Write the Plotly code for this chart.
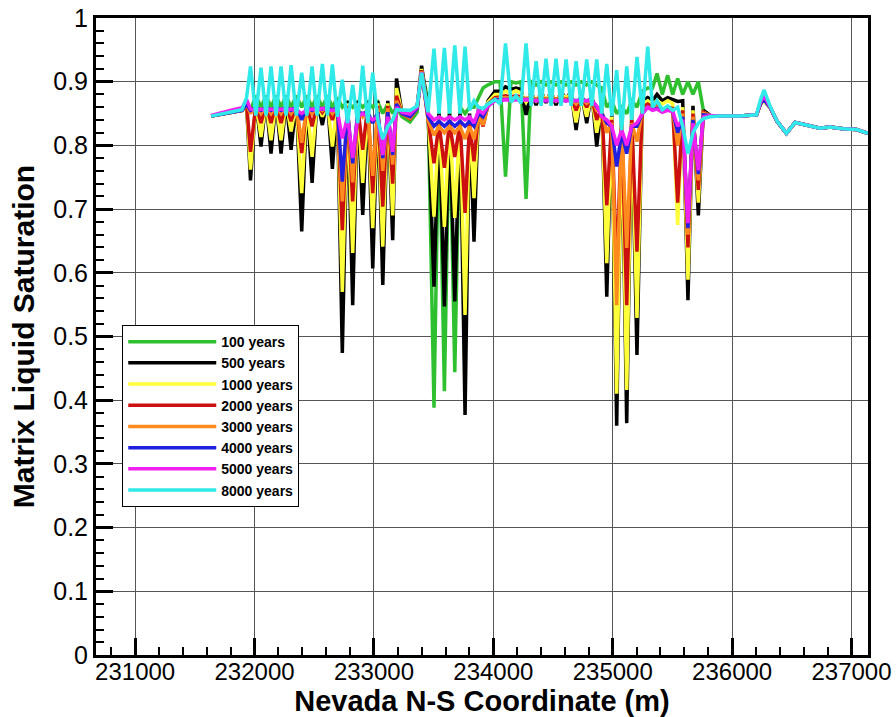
import plotly.graph_objects as go

# Nevada N-S coordinate (m) of the nodes
x_coord = [
    231636, 231728, 231820, 231895, 231933,
    231966, 232011, 232054, 232096, 232138, 232180, 232222, 232264, 232306, 232350,
    232395, 232438, 232482, 232523, 232568, 232610, 232652, 232693, 232735, 232779,
    232822, 232864, 232906, 232948, 232990, 233032, 233074, 233116, 233157,
    233189, 233235, 233302, 233361, 233399,
    233453, 233503, 233545, 233590, 233633, 233677, 233721, 233763, 233801, 233838,
    233876, 233914, 233956,
    234014, 234056, 234102, 234148, 234190, 234232, 234274, 234316, 234358, 234400,
    234441, 234483, 234525, 234567, 234609, 234651, 234693, 234737, 234782, 234824, 234866,
    234908, 234950, 234992, 235033, 235075, 235117, 235159, 235203, 235248, 235293,
    235333, 235371, 235415, 235460, 235502, 235544, 235586, 235630, 235672, 235717, 235759,
    235815, 235899, 236066, 236204, 236238, 236267, 236317, 236376, 236455, 236527,
    236623, 236736, 236820, 236929, 237042, 237138,
]

sat_100 = [
    .846, .849, .852, .855, .865,
    .855, .878, .86, .878, .86, .878, .86, .878, .86, .878, .86, .878, .86, .878, .86, .878, .86, .875,
    .86, .868, .86, .868, .86, .868, .86, .868, .85, .865, .85,
    .86, .845, .837, .852, .918,
    .87, .388, .86, .414, .86, .444, .86, .85, .86, .86, .875, .89, .895,
    .9, .9, .751, .9, .898, .9, .716, .9, .895, .9, .895, .9, .895, .9, .895, .9, .895, .9, .895, .9, .895,
    .89, .86, .87, .85, .86, .85, .87, .86, .885, .89, .89, .913, .88, .91, .88, .905, .88, .9, .88, .9, .855,
    .847, .846, .846, .848, .865, .87, .86, .838, .819, .836, .832, .827, .829, .826, .825, .819,
]
sat_500 = [
    .846, .849, .852, .855, .865,
    .745, .872, .798, .872, .787, .872, .787, .872, .793, .872, .665, .872, .741, .872, .832, .872, .763, .872,
    .474, .87, .549, .87, .691, .87, .607, .87, .581, .87, .651,
    .905, .85, .842, .858, .925,
    .855, .578, .85, .547, .85, .555, .85, .377, .85, .649, .86, .835, .87,
    .885, .885, .892, .888, .89, .888, .848, .885, .863, .885, .867, .885, .863, .885, .872, .885, .824, .885, .835, .885, .798,
    .87, .5625, .85, .36, .85, .364, .85, .471, .87, .875, .87, .88, .87, .875, .872, .869, .87, .557, .862, .69, .855,
    .847, .846, .846, .848, .865, .87, .86, .838, .819, .836, .832, .827, .829, .826, .825, .819,
]
sat_1000 = [
    .846, .849, .852, .855, .865,
    .762, .868, .813, .868, .808, .868, .808, .868, .822, .868, .725, .868, .782, .868, .845, .868, .798, .868,
    .570, .866, .631, .866, .741, .866, .670, .866, .641, .866, .690,
    .89, .85, .842, .858, .92,
    .85, .688, .845, .672, .845, .686, .845, .534, .845, .717, .855, .832, .868,
    .88, .88, .885, .882, .886, .882, .868, .88, .87, .88, .872, .88, .87, .88, .875, .88, .836, .88, .845, .88, .82,
    .865, .615, .845, .41, .845, .416, .845, .529, .865, .87, .865, .87, .865, .87, .866, .675, .86, .589, .855, .71, .852,
    .847, .846, .846, .848, .865, .87, .86, .838, .819, .836, .832, .827, .829, .826, .825, .819,
]
sat_2000 = [
    .846, .849, .852, .855, .865,
    .790, .864, .835, .864, .835, .864, .835, .864, .838, .864, .788, .864, .830, .864, .852, .864, .840, .864,
    .667, .862, .712, .862, .793, .862, .725, .862, .704, .862, .740,
    .878, .85, .842, .858, .918,
    .845, .772, .835, .765, .835, .782, .835, .694, .835, .775, .85, .83, .865,
    .875, .876, .878, .876, .878, .876, .872, .876, .872, .876, .872, .876, .872, .876, .872, .876, .855, .876, .86, .876, .84,
    .86, .706, .84, .60, .84, .549, .84, .633, .86, .865, .86, .862, .855, .86, .858, .71, .855, .64, .85, .73, .852,
    .847, .846, .846, .848, .866, .872, .86, .838, .819, .836, .832, .827, .829, .826, .825, .819,
]
sat_3000 = [
    .846, .849, .852, .855, .865,
    .850, .862, .850, .862, .850, .862, .850, .862, .850, .862, .804, .862, .850, .862, .855, .862, .850, .862,
    .712, .858, .742, .858, .845, .858, .752, .858, .760, .858, .770,
    .87, .85, .843, .858, .916,
    .84, .816, .83, .82, .83, .82, .83, .81, .83, .81, .845, .832, .862,
    .873, .874, .875, .874, .875, .874, .874, .874, .872, .874, .872, .874, .872, .874, .872, .874, .865, .874, .866, .874, .855,
    .855, .82, .835, .549, .835, .639, .835, .806, .855, .86, .858, .86, .855, .858, .856, .80, .85, .66, .845, .745, .85,
    .847, .846, .846, .848, .866, .872, .86, .838, .819, .836, .832, .827, .829, .826, .825, .819,
]
sat_4000 = [
    .846, .849, .852, .855, .865,
    .855, .860, .855, .860, .855, .860, .855, .860, .855, .860, .840, .860, .855, .860, .857, .860, .855, .860,
    .743, .852, .772, .852, .850, .852, .835, .852, .780, .852, .785,
    .865, .85, .845, .858, .915,
    .845, .83, .838, .83, .838, .83, .838, .83, .838, .83, .85, .845, .862,
    .872, .872, .872, .872, .873, .872, .872, .872, .87, .872, .87, .872, .87, .872, .87, .872, .87, .872, .87, .872, .86,
    .85, .835, .83, .767, .82, .787, .83, .83, .85, .86, .856, .858, .853, .856, .854, .82, .845, .67, .84, .755, .848,
    .847, .846, .846, .848, .866, .872, .86, .838, .819, .836, .832, .827, .829, .826, .825, .819,
]
sat_5000 = [
    .847, .852, .856, .859, .872,
    .857, .855, .857, .855, .857, .855, .857, .855, .857, .855, .850, .855, .857, .855, .858, .855, .855, .855,
    .811, .845, .780, .845, .850, .845, .840, .845, .785, .845, .790,
    .86, .852, .849, .86, .915,
    .85, .84, .845, .84, .845, .84, .845, .84, .845, .835, .855, .85, .862,
    .87, .87, .872, .87, .872, .87, .872, .87, .87, .87, .87, .87, .87, .87, .87, .87, .87, .87, .87, .87, .862,
    .845, .84, .83, .80, .825, .80, .83, .835, .85, .86, .855, .857, .852, .855, .853, .83, .84, .678, .835, .761, .845,
    .847, .846, .846, .848, .868, .878, .861, .838, .819, .836, .832, .827, .829, .826, .825, .819,
]
sat_8000 = [
    .846, .850, .853, .856, .875,
    .924, .847, .922, .847, .924, .847, .924, .847, .926, .847, .914, .847, .924, .847, .928, .847, .927, .845,
    .903, .835, .895, .835, .925, .835, .914, .84, .81, .83, .84,
    .856, .856, .855, .862, .914,
    .852, .952, .85, .953, .85, .957, .85, .955, .855, .87, .86, .858, .865,
    .872, .865, .96, .868, .878, .866, .96, .862, .932, .862, .936, .862, .936, .862, .935, .862, .932, .862, .935, .862, .935,
    .85, .928, .846, .918, .824, .924, .84, .939, .85, .955, .86, .87, .856, .862, .855, .86, .83, .787, .82, .835, .842,
    .845, .846, .846, .848, .872, .887, .862, .838, .819, .836, .832, .827, .829, .826, .825, .819,
]

series_labels = ["100 years", "500 years", "1000 years", "2000 years",
                 "3000 years", "4000 years", "5000 years", "8000 years"]
series_values = [sat_100, sat_500, sat_1000, sat_2000, sat_3000, sat_4000, sat_5000, sat_8000]
series_colors = ["#2ec02e", "#000000", "#ffff3a", "#cc1010",
                 "#ff8a1e", "#2020e0", "#f020f0", "#30eaea"]

x_tick_vals = [231000, 232000, 233000, 234000, 235000, 236000, 237000]
y_tick_vals = [0, 0.1, 0.2, 0.3, 0.4, 0.5, 0.6, 0.7, 0.8, 0.9, 1]

fig = go.Figure()
for name, vals, col in zip(series_labels, series_values, series_colors):
    fig.add_trace(go.Scatter(x=x_coord, y=vals, mode="lines", name=name,
                             line=dict(color=col, width=3.5)))

font_fam = "Liberation Sans, Arial, sans-serif"
fig.update_layout(
    width=896, height=717,
    margin=dict(l=96, r=28, t=18, b=62),
    paper_bgcolor="white", plot_bgcolor="white",
    font=dict(family=font_fam, color="black"),
    legend=dict(x=0.034, y=0.518, xanchor="left", yanchor="top",
                bgcolor="white", bordercolor="black", borderwidth=1,
                font=dict(family=font_fam, size=14, weight="bold"),
                itemwidth=88, tracegroupgap=0),
)
fig.update_xaxes(
    range=[230672, 237138], tickmode="array", tickvals=x_tick_vals,
    ticktext=[str(v) for v in x_tick_vals], automargin=False,
    ticks="inside", ticklen=17, tickwidth=3, tickcolor="black",
    showline=True, linewidth=3, linecolor="black", mirror=True,
    showgrid=True, gridcolor="#555555", gridwidth=1, zeroline=False,
    minor=dict(dtick=200, tick0=231000, ticks="inside", ticklen=8, tickwidth=1.5,
               tickcolor="black", showgrid=False),
    tickfont=dict(size=24), ticklabelstandoff=-7,
    title=dict(text="<b>Nevada N-S Coordinate (m)</b>", font=dict(size=29), standoff=2),
)
fig.update_yaxes(
    range=[0, 1], tickmode="array", tickvals=y_tick_vals,
    ticktext=[("%g" % v) for v in y_tick_vals], automargin=False,
    ticks="inside", ticklen=17, tickwidth=3, tickcolor="black",
    showline=True, linewidth=3, linecolor="black", mirror=True,
    showgrid=True, gridcolor="#555555", gridwidth=1, zeroline=False,
    minor=dict(dtick=0.02, tick0=0, ticks="inside", ticklen=8, tickwidth=1.5,
               tickcolor="black", showgrid=False),
    tickfont=dict(size=25),
    title=dict(text="<b>Matrix Liquid Saturation</b>", font=dict(size=30), standoff=10),
)

fig.write_html("out.html")
